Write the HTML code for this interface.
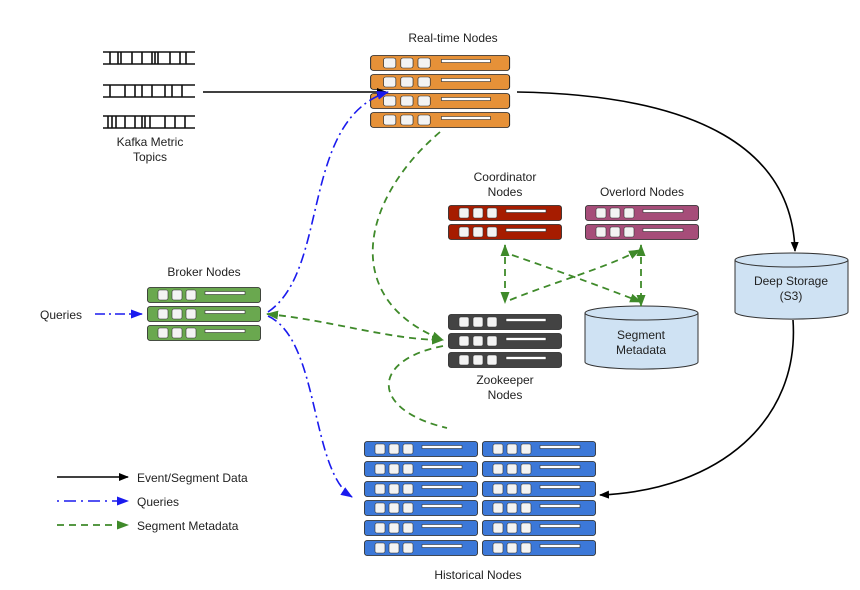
<!DOCTYPE html>
<html><head><meta charset="utf-8"><style>
html,body{margin:0;padding:0;background:#fff}
svg{display:block}
text{font-family:"Liberation Sans",Arial,sans-serif;font-size:12px;fill:#222}
</style></head><body>
<svg width="860" height="590" viewBox="0 0 860 590" xmlns="http://www.w3.org/2000/svg">
<defs>
<symbol id="row" overflow="visible">
<rect x="0.5" y="0.5" width="113" height="15" rx="2.5" stroke="#222" stroke-width="0.8"/>
<rect x="11" y="3" width="10" height="10" rx="2" fill="#f3f3f3" stroke="#333" stroke-width="0.6"/>
<rect x="25" y="3" width="10" height="10" rx="2" fill="#f3f3f3" stroke="#333" stroke-width="0.6"/>
<rect x="39" y="3" width="10" height="10" rx="2" fill="#f3f3f3" stroke="#333" stroke-width="0.6"/>
<rect x="58" y="4.5" width="40" height="3" fill="#fff" stroke="#333" stroke-width="0.6"/>
</symbol>
<marker id="ak" markerWidth="10" markerHeight="10" refX="9" refY="5" orient="auto" markerUnits="userSpaceOnUse"><path d="M0,1 L10,5 L0,9 Z" fill="#000"/></marker>
<marker id="ab" markerWidth="12" markerHeight="10" refX="11" refY="5" orient="auto" markerUnits="userSpaceOnUse"><path d="M0,0.5 L12,5 L0,9.5 Z" fill="#1a1aee"/></marker>
<marker id="ag" markerWidth="12" markerHeight="10" refX="11" refY="5" orient="auto-start-reverse" markerUnits="userSpaceOnUse"><path d="M0,0.5 L12,5 L0,9.5 Z" fill="#3f8a2a"/></marker>
</defs>

<!-- Kafka topics -->
<g stroke="#111" fill="none" stroke-width="1.6">
<path d="M103,52 H195 M103,64 H195 M110,52V64 M118,52V64 M121,52V64 M132,52V64 M142,52V64 M152,52V64 M155,52V64 M158,52V64 M170,52V64 M180,52V64 M186,52V64"/>
<path d="M103,85 H195 M103,97 H195 M110,85V97 M125,85V97 M135,85V97 M142,85V97 M152,85V97 M165,85V97 M172,85V97 M182,85V97"/>
<path d="M103,116 H195 M103,128 H195 M108,116V128 M112,116V128 M116,116V128 M125,116V128 M135,116V128 M142,116V128 M145,116V128 M150,116V128 M165,116V128 M175,116V128 M185,116V128"/>
</g>
<text x="150" y="146" text-anchor="middle">Kafka Metric</text>
<text x="150" y="161" text-anchor="middle">Topics</text>

<!-- Real-time -->
<text x="453" y="42" text-anchor="middle">Real-time Nodes</text>
<g fill="#e69138" transform="translate(370,0) scale(1.23,1)">
<use href="#row" y="55"/><use href="#row" y="74"/><use href="#row" y="93"/><use href="#row" y="112"/>
</g>

<!-- Coordinator -->
<text x="505" y="181" text-anchor="middle">Coordinator</text>
<text x="505" y="196" text-anchor="middle">Nodes</text>
<g fill="#a61c00"><use href="#row" x="448" y="205"/><use href="#row" x="448" y="224"/></g>

<!-- Overlord -->
<text x="642" y="196" text-anchor="middle">Overlord Nodes</text>
<g fill="#a64d79"><use href="#row" x="585" y="205"/><use href="#row" x="585" y="224"/></g>

<!-- Broker -->
<text x="204" y="276" text-anchor="middle">Broker Nodes</text>
<g fill="#6aa84f"><use href="#row" x="147" y="287"/><use href="#row" x="147" y="306"/><use href="#row" x="147" y="325"/></g>

<!-- Zookeeper -->
<g fill="#434343"><use href="#row" x="448" y="314"/><use href="#row" x="448" y="333"/><use href="#row" x="448" y="352"/></g>
<text x="505" y="384" text-anchor="middle">Zookeeper</text>
<text x="505" y="399" text-anchor="middle">Nodes</text>

<!-- Historical -->
<g fill="#3c78d8">
<use href="#row" x="364" y="441"/><use href="#row" x="364" y="461"/><use href="#row" x="364" y="481"/><use href="#row" x="364" y="500"/><use href="#row" x="364" y="520"/><use href="#row" x="364" y="540"/>
<use href="#row" x="482" y="441"/><use href="#row" x="482" y="461"/><use href="#row" x="482" y="481"/><use href="#row" x="482" y="500"/><use href="#row" x="482" y="520"/><use href="#row" x="482" y="540"/>
</g>
<text x="478" y="579" text-anchor="middle">Historical Nodes</text>

<!-- Deep storage cylinder -->
<g fill="#cfe2f3" stroke="#333" stroke-width="1">
<path d="M735,260 V312 A56,7 0 0 0 848,312 V260"/>
<ellipse cx="791.5" cy="260" rx="56.5" ry="7"/>
</g>
<text x="791" y="285" text-anchor="middle">Deep Storage</text>
<text x="791" y="300" text-anchor="middle">(S3)</text>

<!-- Segment metadata cylinder -->
<g fill="#cfe2f3" stroke="#333" stroke-width="1">
<path d="M585,313 V362 A56,7 0 0 0 698,362 V313"/>
<ellipse cx="641.5" cy="313" rx="56.5" ry="7"/>
</g>
<text x="641" y="339" text-anchor="middle">Segment</text>
<text x="641" y="354" text-anchor="middle">Metadata</text>

<!-- Black connectors -->
<g stroke="#000" stroke-width="1.6" fill="none" marker-end="url(#ak)">
<path d="M203,92 H386"/>
<path d="M517,92 C700,95 792,150 795,251"/>
<path d="M793,320 C800,420 720,490 600,495"/>
</g>

<!-- Blue queries -->
<g stroke="#1a1aee" stroke-width="1.6" fill="none" stroke-dasharray="10,4,2,4" marker-end="url(#ab)">
<path d="M95,314 H142"/>
<path d="M268,312 C330,270 300,120 388,92"/>
<path d="M268,316 C320,340 310,470 352,497"/>
</g>

<!-- Green metadata -->
<g stroke="#3f8a2a" stroke-width="1.8" fill="none" stroke-dasharray="7,5">
<path d="M440,132 C360,200 340,300 443,340" marker-end="url(#ag)"/>
<path d="M267,314 C330,320 390,340 443,340" marker-start="url(#ag)" marker-end="url(#ag)"/>
<path d="M443,346 C370,360 370,410 447,428"/>
<path d="M505,245 V303" marker-start="url(#ag)" marker-end="url(#ag)"/>
<path d="M641,245 V306" marker-start="url(#ag)" marker-end="url(#ag)"/>
<path d="M512,255 C570,275 610,290 641,302" marker-end="url(#ag)"/>
<path d="M510,300 C560,280 600,270 640,250" marker-end="url(#ag)"/>
</g>

<!-- Legend -->
<path d="M57,477 H128" stroke="#000" stroke-width="1.6" marker-end="url(#ak)"/>
<path d="M57,501 H128" stroke="#1a1aee" stroke-width="1.6" stroke-dasharray="2,5,12,5" marker-end="url(#ab)"/>
<path d="M57,525 H128" stroke="#3f8a2a" stroke-width="1.8" stroke-dasharray="7,5" marker-end="url(#ag)"/>
<text x="137" y="482">Event/Segment Data</text>
<text x="137" y="506">Queries</text>
<text x="137" y="530">Segment Metadata</text>
<text x="40" y="319">Queries</text>
</svg>
</body></html>
